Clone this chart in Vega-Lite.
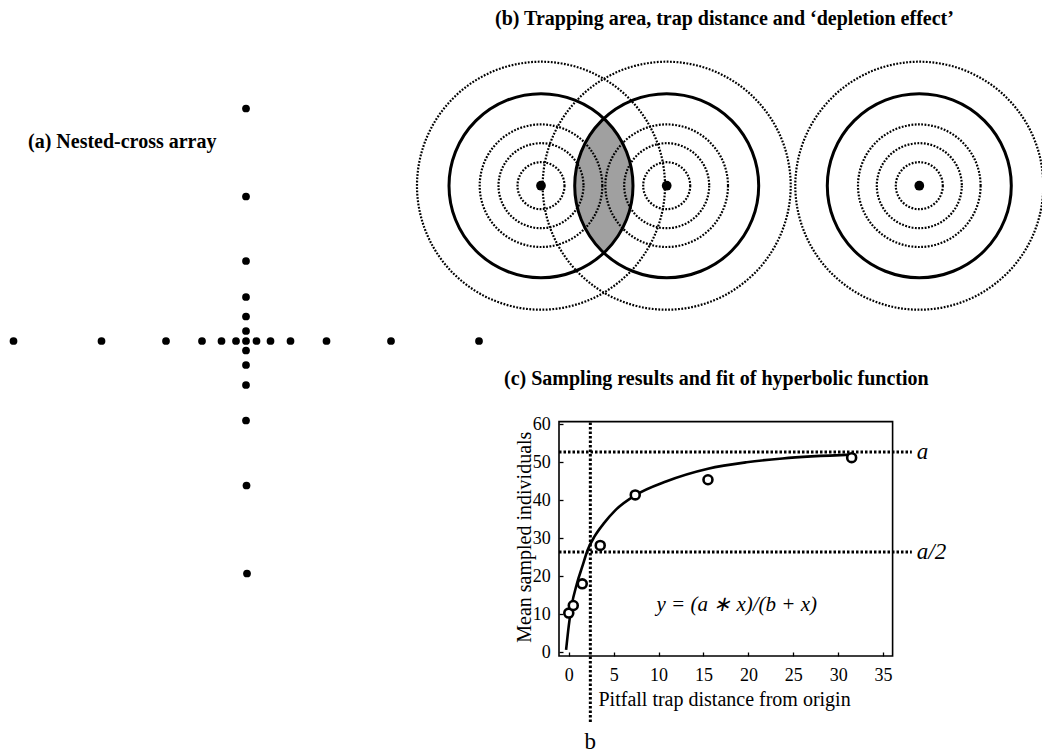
{
  "$schema": "https://vega.github.io/schema/vega-lite/v6.json",
  "padding": 0,
  "background": "white",
  "spacing": 0,
  "bounds": "flush",
  "config": {
    "view": {"stroke": null},
    "text": {"font": "Liberation Serif", "color": "black"}
  },
  "datasets": {
    "cross": [
      {"arm": "centre", "x": 0, "y": 0},
      {"arm": "W", "x": -23.25, "y": 0}, {"arm": "W", "x": -14.45, "y": 0}, {"arm": "W", "x": -8.0, "y": 0},
      {"arm": "W", "x": -4.4, "y": 0}, {"arm": "W", "x": -2.45, "y": 0}, {"arm": "W", "x": -1.0, "y": 0},
      {"arm": "E", "x": 1.05, "y": 0}, {"arm": "E", "x": 2.45, "y": 0}, {"arm": "E", "x": 4.45, "y": 0},
      {"arm": "E", "x": 8.05, "y": 0}, {"arm": "E", "x": 14.5, "y": 0}, {"arm": "E", "x": 23.3, "y": 0},
      {"arm": "N", "x": 0, "y": 23.25}, {"arm": "N", "x": 0, "y": 14.45}, {"arm": "N", "x": 0, "y": 8.0},
      {"arm": "N", "x": 0, "y": 4.4}, {"arm": "N", "x": 0, "y": 2.45}, {"arm": "N", "x": 0, "y": 1.0},
      {"arm": "S", "x": 0, "y": -0.95}, {"arm": "S", "x": 0, "y": -2.4}, {"arm": "S", "x": 0, "y": -4.4},
      {"arm": "S", "x": 0, "y": -7.95}, {"arm": "S", "x": 0.05, "y": -14.45}, {"arm": "S", "x": 0.1, "y": -23.25}
    ],
    "traps": [
      {"trap": 1, "x": 29.5, "y": 15.53},
      {"trap": 2, "x": 42.07, "y": 15.53},
      {"trap": 3, "x": 67.33, "y": 15.53}
    ],
    "rings": [
      {"trap": 1, "x": 29.5, "y": 15.53, "r": 2.35, "line": "dotted"},
      {"trap": 1, "x": 29.5, "y": 15.53, "r": 4.25, "line": "dotted"},
      {"trap": 1, "x": 29.5, "y": 15.53, "r": 6.13, "line": "dotted"},
      {"trap": 1, "x": 29.5, "y": 15.53, "r": 9.2, "line": "bold"},
      {"trap": 1, "x": 29.5, "y": 15.53, "r": 12.4, "line": "dotted"},
      {"trap": 2, "x": 42.07, "y": 15.53, "r": 2.35, "line": "dotted"},
      {"trap": 2, "x": 42.07, "y": 15.53, "r": 4.25, "line": "dotted"},
      {"trap": 2, "x": 42.07, "y": 15.53, "r": 6.13, "line": "dotted"},
      {"trap": 2, "x": 42.07, "y": 15.53, "r": 9.2, "line": "bold"},
      {"trap": 2, "x": 42.07, "y": 15.53, "r": 12.4, "line": "dotted"},
      {"trap": 3, "x": 67.33, "y": 15.53, "r": 2.35, "line": "dotted"},
      {"trap": 3, "x": 67.33, "y": 15.53, "r": 4.25, "line": "dotted"},
      {"trap": 3, "x": 67.33, "y": 15.53, "r": 6.13, "line": "dotted"},
      {"trap": 3, "x": 67.33, "y": 15.53, "r": 9.2, "line": "bold"},
      {"trap": 3, "x": 67.33, "y": 15.53, "r": 12.4, "line": "dotted"}
    ],
    "overlap": [
      {"between": "trap 1 and trap 2", "x": 35.79, "y": 15.53}
    ],
    "catches": [
      {"x": 0, "y": 10.3},
      {"x": 0.5, "y": 12.3},
      {"x": 1.5, "y": 18.0},
      {"x": 3.5, "y": 28.1},
      {"x": 7.4, "y": 41.4},
      {"x": 15.5, "y": 45.4},
      {"x": 31.5, "y": 51.2}
    ],
    "curve": [
      {"x": -0.3, "y": 0.6},
      {"x": 0.0, "y": 7.0},
      {"x": 0.3, "y": 12.0},
      {"x": 0.9, "y": 18.0},
      {"x": 1.5, "y": 22.5},
      {"x": 2.1, "y": 26.9},
      {"x": 2.85, "y": 30.4},
      {"x": 3.9, "y": 33.9},
      {"x": 5.2, "y": 37.4},
      {"x": 7.4, "y": 41.3},
      {"x": 10.9, "y": 45.0},
      {"x": 15.5, "y": 48.3},
      {"x": 19.8, "y": 50.0},
      {"x": 23.8, "y": 51.0},
      {"x": 31.5, "y": 52.0}
    ],
    "fitLines": [
      {"param": "a", "axis": "y", "value": 52.7, "label": "a"},
      {"param": "a/2", "axis": "y", "value": 26.35, "label": "a/2"},
      {"param": "b", "axis": "x", "value": 2.4, "label": "b"}
    ]
  },
  "hconcat": [
    {
      "width": 558.7,
      "height": 754,
      "layer": [
        {
          "data": {"name": "cross"},
          "mark": {"type": "point", "shape": "circle", "filled": true, "color": "black", "opacity": 1, "size": 60},
          "encoding": {
            "x": {"field": "x", "type": "quantitative", "scale": {"domain": [-24.6, 31.27], "nice": false, "zero": false}, "axis": null},
            "y": {"field": "y", "type": "quantitative", "scale": {"domain": [-41.3, 34.1], "nice": false, "zero": false}, "axis": null}
          }
        },
        {
          "data": {"name": "overlap"},
          "mark": {"type": "point", "shape": "M0,-1A1.369,1.369,0,0,1,0,1A1.369,1.369,0,0,1,0,-1Z", "filled": true, "color": "#a0a0a0", "opacity": 1, "size": 18063, "strokeWidth": 0},
          "encoding": {
            "x": {"field": "x", "type": "quantitative", "scale": {"domain": [-24.6, 31.27], "nice": false, "zero": false}, "axis": null},
            "y": {"field": "y", "type": "quantitative", "scale": {"domain": [-41.3, 34.1], "nice": false, "zero": false}, "axis": null}
          }
        },
        {
          "data": {"name": "rings"},
          "transform": [{"filter": "datum.line == 'dotted'"}],
          "mark": {"type": "point", "shape": "circle", "filled": false, "color": "black", "opacity": 1, "strokeWidth": 2.2, "strokeDash": [1.8, 1.5]},
          "encoding": {
            "x": {"field": "x", "type": "quantitative", "scale": {"domain": [-24.6, 31.27], "nice": false, "zero": false}, "axis": null},
            "y": {"field": "y", "type": "quantitative", "scale": {"domain": [-41.3, 34.1], "nice": false, "zero": false}, "axis": null},
            "size": {"field": "r", "type": "quantitative", "scale": {"type": "pow", "exponent": 2, "domain": [0, 12.4], "range": [0, 61504]}, "legend": null}
          }
        },
        {
          "data": {"name": "rings"},
          "transform": [{"filter": "datum.line == 'bold'"}],
          "mark": {"type": "point", "shape": "circle", "filled": false, "color": "black", "opacity": 1, "strokeWidth": 3},
          "encoding": {
            "x": {"field": "x", "type": "quantitative", "scale": {"domain": [-24.6, 31.27], "nice": false, "zero": false}, "axis": null},
            "y": {"field": "y", "type": "quantitative", "scale": {"domain": [-41.3, 34.1], "nice": false, "zero": false}, "axis": null},
            "size": {"field": "r", "type": "quantitative", "scale": {"type": "pow", "exponent": 2, "domain": [0, 12.4], "range": [0, 61504]}, "legend": null}
          }
        },
        {
          "data": {"name": "traps"},
          "mark": {"type": "point", "shape": "circle", "filled": true, "color": "black", "opacity": 1, "size": 95},
          "encoding": {
            "x": {"field": "x", "type": "quantitative", "scale": {"domain": [-24.6, 31.27], "nice": false, "zero": false}, "axis": null},
            "y": {"field": "y", "type": "quantitative", "scale": {"domain": [-41.3, 34.1], "nice": false, "zero": false}, "axis": null}
          }
        },
        {
          "data": {"values": [{}]},
          "mark": {"type": "text", "text": "(a) Nested-cross array", "fontSize": 20, "fontWeight": "bold", "align": "left", "baseline": "middle"},
          "encoding": {
            "x": {"datum": -21.8, "type": "quantitative", "scale": {"domain": [-24.6, 31.27], "nice": false, "zero": false}, "axis": null},
            "y": {"datum": 19.93, "type": "quantitative", "scale": {"domain": [-41.3, 34.1], "nice": false, "zero": false}, "axis": null}
          }
        },
        {
          "data": {"values": [{}]},
          "mark": {"type": "text", "text": "(b) Trapping area, trap distance and ‘depletion effect’", "fontSize": 20, "fontWeight": "bold", "align": "left", "baseline": "middle"},
          "encoding": {
            "x": {"datum": 24.9, "type": "quantitative", "scale": {"domain": [-24.6, 31.27], "nice": false, "zero": false}, "axis": null},
            "y": {"datum": 32.2, "type": "quantitative", "scale": {"domain": [-41.3, 34.1], "nice": false, "zero": false}, "axis": null}
          }
        },
        {
          "data": {"values": [{}]},
          "mark": {"type": "text", "text": "(c) Sampling results and fit of hyperbolic function", "fontSize": 20, "fontWeight": "bold", "align": "left", "baseline": "middle"},
          "encoding": {
            "x": {"datum": 25.8, "type": "quantitative", "scale": {"domain": [-24.6, 31.27], "nice": false, "zero": false}, "axis": null},
            "y": {"datum": -3.8, "type": "quantitative", "scale": {"domain": [-41.3, 34.1], "nice": false, "zero": false}, "axis": null}
          }
        }
      ]
    },
    {
      "width": 333.6,
      "height": 656,
      "layer": [
        {
          "data": {"values": [{}]},
          "mark": {"type": "rect", "filled": false, "color": "black", "strokeWidth": 1.6},
          "encoding": {
            "x": {"datum": -1.09, "type": "quantitative", "scale": {"domain": [-1.09, 36.06], "nice": false, "zero": false}},
            "x2": {"datum": 36.06},
            "y": {"datum": -1.0, "type": "quantitative", "scale": {"domain": [-1.0, 171.66], "nice": false, "zero": false}},
            "y2": {"datum": 60.7}
          }
        },
        {
          "data": {"name": "fitLines"},
          "transform": [{"filter": "datum.axis == 'y'"}],
          "mark": {"type": "rule", "color": "black", "strokeWidth": 3, "strokeDash": [2.5, 2]},
          "encoding": {
            "x": {"datum": -1.09, "type": "quantitative", "scale": {"domain": [-1.09, 36.06], "nice": false, "zero": false}},
            "x2": {"datum": 38.2},
            "y": {"field": "value", "type": "quantitative", "scale": {"domain": [-1.0, 171.66], "nice": false, "zero": false}}
          }
        },
        {
          "data": {"name": "fitLines"},
          "transform": [{"filter": "datum.axis == 'x'"}],
          "mark": {"type": "rule", "color": "black", "strokeWidth": 3, "strokeDash": [2.5, 2]},
          "encoding": {
            "x": {"field": "value", "type": "quantitative", "scale": {"domain": [-1.09, 36.06], "nice": false, "zero": false}},
            "y": {"datum": -18.37, "type": "quantitative", "scale": {"domain": [-1.0, 171.66], "nice": false, "zero": false}},
            "y2": {"datum": 60.7}
          }
        },
        {
          "data": {"name": "curve"},
          "mark": {"type": "line", "color": "black", "strokeWidth": 2.6, "interpolate": "monotone"},
          "encoding": {
            "x": {"field": "x", "type": "quantitative", "scale": {"domain": [-1.09, 36.06], "nice": false, "zero": false}},
            "y": {"field": "y", "type": "quantitative", "scale": {"domain": [-1.0, 171.66], "nice": false, "zero": false}}
          }
        },
        {
          "data": {"name": "catches"},
          "mark": {"type": "point", "shape": "circle", "filled": false, "fill": "white", "stroke": "black", "opacity": 1, "strokeWidth": 2.6, "size": 80},
          "encoding": {
            "x": {
              "field": "x", "type": "quantitative",
              "scale": {"domain": [-1.09, 36.06], "nice": false, "zero": false},
              "axis": {
                "orient": "bottom", "values": [0, 5, 10, 15, 20, 25, 30, 35],
                "domain": false, "grid": false, "ticks": true, "tickSize": -4, "tickWidth": 1.3, "tickColor": "black",
                "labelPadding": 14.7, "labelFont": "Liberation Serif", "labelFontSize": 18, "labelColor": "black",
                "labelFlush": false, "labelOverlap": false,
                "title": "Pitfall trap distance from origin", "titleFont": "Liberation Serif", "titleFontSize": 20,
                "titleFontWeight": "normal", "titleColor": "black", "titleX": 39, "titleY": 49,
                "titleAlign": "left", "titleBaseline": "alphabetic"
              }
            },
            "y": {
              "field": "y", "type": "quantitative",
              "scale": {"domain": [-1.0, 171.66], "nice": false, "zero": false},
              "axis": {
                "orient": "left", "values": [0, 10, 20, 30, 40, 50, 60],
                "domain": false, "grid": false, "ticks": true, "tickSize": -4, "tickWidth": 1.3, "tickColor": "black",
                "labelPadding": 12.7, "labelFont": "Liberation Serif", "labelFontSize": 18, "labelColor": "black",
                "labelFlush": false, "labelOverlap": false,
                "title": "Mean sampled individuals", "titleFont": "Liberation Serif", "titleFontSize": 20,
                "titleFontWeight": "normal", "titleColor": "black", "titleX": -35, "titleY": 536.7,
                "titleAngle": 270, "titleAlign": "center", "titleBaseline": "middle"
              }
            }
          }
        },
        {
          "data": {"name": "fitLines"},
          "transform": [{"filter": "datum.axis == 'y'"}],
          "mark": {"type": "text", "fontSize": 23, "fontStyle": "italic", "align": "left", "baseline": "middle"},
          "encoding": {
            "text": {"field": "label"},
            "x": {"datum": 38.75, "type": "quantitative", "scale": {"domain": [-1.09, 36.06], "nice": false, "zero": false}},
            "y": {"field": "value", "type": "quantitative", "scale": {"domain": [-1.0, 171.66], "nice": false, "zero": false}}
          }
        },
        {
          "data": {"name": "fitLines"},
          "transform": [{"filter": "datum.axis == 'x'"}],
          "mark": {"type": "text", "fontSize": 23, "align": "center", "baseline": "alphabetic"},
          "encoding": {
            "text": {"field": "label"},
            "x": {"field": "value", "type": "quantitative", "scale": {"domain": [-1.09, 36.06], "nice": false, "zero": false}},
            "y": {"datum": -25.6, "type": "quantitative", "scale": {"domain": [-1.0, 171.66], "nice": false, "zero": false}}
          }
        },
        {
          "data": {"values": [{}]},
          "mark": {"type": "text", "text": "y = (a ∗ x)/(b + x)", "fontSize": 21, "fontStyle": "italic", "align": "center", "baseline": "middle"},
          "encoding": {
            "x": {"datum": 18.7, "type": "quantitative", "scale": {"domain": [-1.09, 36.06], "nice": false, "zero": false}},
            "y": {"datum": 12.42, "type": "quantitative", "scale": {"domain": [-1.0, 171.66], "nice": false, "zero": false}}
          }
        }
      ]
    }
  ]
}
